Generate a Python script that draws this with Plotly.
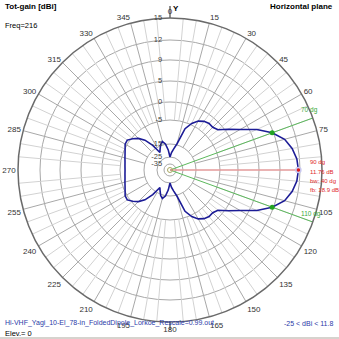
import numpy as np
import plotly.graph_objects as go

# ---------------- data ----------------
theta_deg = list(range(0, 360, 5))
gain_dbi = [
    -25.0, -21.5, -18.5, -14.5, -7.5, -4.6, -3.2, -2.4, -2.0, -2.1,   # 0-45
    -1.5, 0.7, 3.1, 6.3, 8.76, 10.3, 11.1, 11.6, 11.76,              # 50-90
    11.6, 11.1, 10.3, 8.76, 6.3, 3.1, 0.7, -1.5, -2.1, -2.0,         # 95-140
    -2.4, -3.2, -4.6, -7.5, -14.5, -18.5, -21.5, -25.0,              # 145-180
    -19.5, -14.8, -13.5, -14.5, -17.0, -19.5, -13.3, -9.6, -7.2,     # 185-225
    -5.6, -4.4, -4.5, -5.2, -5.9, -6.4, -6.8, -7.0, -7.1,            # 230-270
    -7.0, -6.8, -6.4, -5.9, -5.2, -4.5, -4.4, -5.6, -7.2, -9.6,      # 275-320
    -13.3, -19.5, -17.0, -14.5, -13.5, -14.8, -19.5,                 # 325-355
]
ring_db = [-35, -25, -15, -5, 0, 5, 9, 12, 15]
ring_labels = ["-35", "-25", "-15", "-5", "0", "5", "9", "12", "15"]
ang_tick_vals = [0, 15, 30, 45, 60, 75, 105, 120, 135, 150, 165, 180,
                 195, 210, 225, 240, 255, 270, 285, 300, 315, 330, 345]
max_dir = 90
max_gain = 11.76
bw_lo, bw_hi = 70, 110
bw_gain = 8.76

# radial scale: dB -> screen radius (px), log-like ring ladder of the chart
SCALE_DB = ring_db
SCALE_R = [6, 13, 26, 50, 68, 89, 110, 130, 152]
R_MAX = 152


def to_r(db):
    return np.interp(np.asarray(db, dtype=float), SCALE_DB, SCALE_R)


W = H = 339
CX, CY = 170, 170


def px(x):
    return x / W


def py(y):
    return 1 - y / H


FONT = "Liberation Sans, Arial, sans-serif"
PAD = "\u00a0\u00a0\u00a0"

fig = go.Figure()

# spokes (minor every 5 deg, major every 15 deg)
minor_t, minor_r, major_t, major_r = [], [], [], []
for a in range(0, 360, 5):
    if a % 90 == 0:
        continue
    if a % 15 == 0:
        major_t += [a, a, None]
        major_r += [SCALE_R[2], R_MAX, None]
    else:
        minor_t += [a, a, None]
        minor_r += [SCALE_R[3], R_MAX, None]
fig.add_trace(go.Scatterpolar(r=minor_r, theta=minor_t, mode="lines",
                              line=dict(color="#d2d2d2", width=1),
                              hoverinfo="skip", showlegend=False))
fig.add_trace(go.Scatterpolar(r=major_r, theta=major_t, mode="lines",
                              line=dict(color="#a8a8a8", width=1),
                              hoverinfo="skip", showlegend=False))

# beamwidth lines (green) and max line (red)
fig.add_trace(go.Scatterpolar(r=[0, R_MAX, None, 0, R_MAX],
                              theta=[bw_lo, bw_lo, None, bw_hi, bw_hi],
                              mode="lines", line=dict(color="#5cb85c", width=1),
                              hoverinfo="skip", showlegend=False))
fig.add_trace(go.Scatterpolar(r=[0, float(to_r(max_gain))], theta=[max_dir, max_dir],
                              mode="lines", line=dict(color="#e39a9a", width=1.5),
                              hoverinfo="skip", showlegend=False))

# pattern
t_closed = theta_deg + [theta_deg[0]]
g_closed = gain_dbi + [gain_dbi[0]]
fig.add_trace(go.Scatterpolar(r=to_r(g_closed), theta=t_closed, mode="lines",
                              line=dict(color="#1c1c96", width=1.6),
                              showlegend=False))

# markers
fig.add_trace(go.Scatterpolar(r=to_r([bw_gain, bw_gain]), theta=[bw_lo, bw_hi],
                              mode="markers", marker=dict(color="#22a322", size=5),
                              showlegend=False))
fig.add_trace(go.Scatterpolar(r=[float(to_r(max_gain))], theta=[max_dir],
                              mode="markers",
                              marker=dict(color="#e01818", size=5,
                                          line=dict(color="#c8c8f0", width=1.5)),
                              showlegend=False))
fig.add_trace(go.Scatterpolar(r=[0], theta=[0], mode="markers",
                              marker=dict(color="#a8a860", size=5, symbol="circle-open"),
                              showlegend=False))

fig.update_layout(
    width=W, height=H,
    margin=dict(l=0, r=0, t=0, b=0),
    paper_bgcolor="white",
    plot_bgcolor="white",
    showlegend=False,
    polar=dict(
        domain=dict(x=[px(CX - R_MAX), px(CX + R_MAX)],
                    y=[py(CY + R_MAX), py(CY - R_MAX)]),
        bgcolor="white",
        angularaxis=dict(
            rotation=90, direction="clockwise",
            tickmode="array", tickvals=ang_tick_vals,
            ticktext=[str(v) for v in ang_tick_vals],
            showgrid=False, ticks="",
            showline=True, linecolor="#6a6a6a", linewidth=1.5,
            tickfont=dict(family=FONT, size=8, color="#333333"),
        ),
        radialaxis=dict(
            range=[0, R_MAX],
            tickmode="array", tickvals=SCALE_R,
            ticktext=[lab + PAD for lab in ring_labels],
            showgrid=True, gridcolor="#a8a8a8", gridwidth=1,
            showline=False, ticks="", angle=90, side="counterclockwise",
            tickangle=90,
            tickfont=dict(family=FONT, size=7.5, color="#444444"),
        ),
    ),
)

# main axes (gray cross)
fig.add_shape(type="line", xref="paper", yref="paper",
              x0=px(CX), x1=px(CX), y0=py(6), y1=py(330),
              line=dict(color="#8f8f8f", width=2), layer="below")
fig.add_shape(type="line", xref="paper", yref="paper",
              x0=px(CX - R_MAX), x1=px(CX + R_MAX), y0=py(CY), y1=py(CY),
              line=dict(color="#8f8f8f", width=2), layer="below")
# bottom window strip
fig.add_shape(type="rect", xref="paper", yref="paper",
              x0=0, x1=1, y0=0, y1=py(337), line=dict(width=0),
              fillcolor="#d6d3ce")


def note(text, x, y, size=8, color="black", xanchor="left", bold=False):
    if bold:
        text = "<b>" + text + "</b>"
    fig.add_annotation(text=text, x=px(x), y=py(y), xref="paper", yref="paper",
                       showarrow=False, xanchor=xanchor, yanchor="middle",
                       font=dict(family=FONT, size=size, color=color))


note("Tot-gain [dBi]", 3, 7, size=8, bold=True)
note("Horizontal plane", 335, 7, size=8, bold=True, xanchor="right")
note("Freq=216", 3, 25, size=7.5)
note("Y", 176, 8, size=8, bold=True, xanchor="center")
note("Hi-VHF_Yagi_10-El_78-in_FoldedDipole_Lorkoe_Rescale=0.99.out", 3, 323,
     size=7, color="#2b3aa8")
note("-25 &lt; dBi &lt; 11.8", 335, 323, size=7, color="#2b3aa8", xanchor="right")
note("Elev.= 0", 3, 333, size=7.5)
note("70 dg", 299, 110, size=6.5, color="#3aa83a")
note("110 dg", 299, 214, size=6.5, color="#3aa83a")
note("90 dg", 308, 162, size=6, color="#e02828")
note("11.76 dB", 308, 171.5, size=6, color="#e02828")
note("bw: 40 dg", 308, 180.5, size=6, color="#e02828")
note("fb: 18.9 dB", 308, 189.5, size=6, color="#e02828")

fig.write_html("out.html")
